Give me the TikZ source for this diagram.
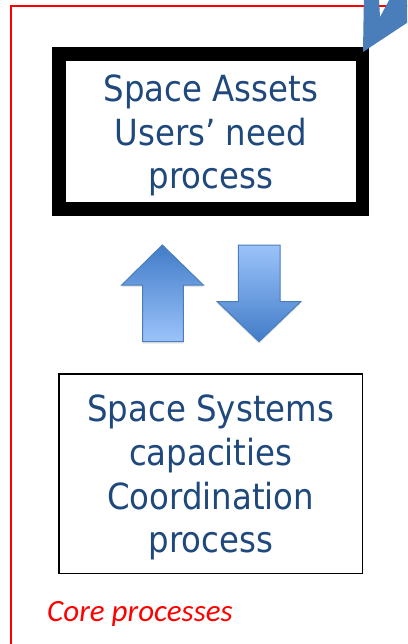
\documentclass[tikz,border=0pt]{standalone}
\usepackage{fontspec}
\newfontfamily\boxfont[FakeStretch=0.9]{DejaVu Sans}
\newfontfamily\notefont{Carlito}
\usetikzlibrary{shadows}
\definecolor{textblue}{RGB}{31,73,125}
\definecolor{arrowblue}{RGB}{74,126,187}
\definecolor{arrowdark}{RGB}{66,124,200}
\definecolor{arrowlight}{RGB}{155,195,250}
\begin{document}
\begin{tikzpicture}[x=1pt, y=-1pt,
    boxtext/.style={align=center, text=textblue, font=\boxfont\fontsize{36}{43.7}\selectfont},
    blockarrow/.style={draw=arrowblue, line width=1pt, line join=miter,
        drop shadow={opacity=0.2, shadow xshift=0pt, shadow yshift=-2pt}}]
    \clip (0,0) rectangle (407,644);
    \fill[white] (0,0) rectangle (407,644);
    % outer frame
    \draw[red, line width=2pt] (430,6) -- (11,6) -- (11,660);
    \node[draw, line width=13.4pt, minimum width=303.5pt, minimum height=155pt, inner sep=0pt] (users) at (210.75,131.5) {};
    \node[boxtext] (userstext) at ([yshift=-4pt]users.center) {Space Assets\\Users’ need\\process};
    \node[draw, line width=1.7pt, minimum width=303.5pt, minimum height=199.5pt, inner sep=0pt] (systems) at (210.75,473.75) {};
    \node[boxtext] (systemstext) at ([yshift=-4pt]systems.center) {Space Systems\\capacities\\Coordination\\process};
    % arrows between the boxes
    \path[blockarrow, top color=arrowdark, bottom color=arrowlight]
        (162.3,245) -- (203.3,285) -- (183.3,285) -- (183.3,341.7) -- (142.7,341.7) -- (142.7,285) -- (121.7,285) -- cycle;
    \path[blockarrow, top color=arrowlight, bottom color=arrowdark]
        (238.3,245) -- (280,245) -- (280,301.7) -- (300.7,301.7) -- (259,341.7) -- (217.3,301.7) -- (238.3,301.7) -- cycle;
    % incoming arrow
    \fill[arrowblue] (363,52) -- (364,-10) -- (378.5,-10) -- (380,17) -- (394.5,-10) -- (440,-10) -- (440,1) -- cycle;
    \node[anchor=base west, inner sep=0pt, text=red, font=\notefont\itshape\fontsize{31}{36}\selectfont] (core) at (47,621.7) {Core processes};
\end{tikzpicture}
\end{document}
